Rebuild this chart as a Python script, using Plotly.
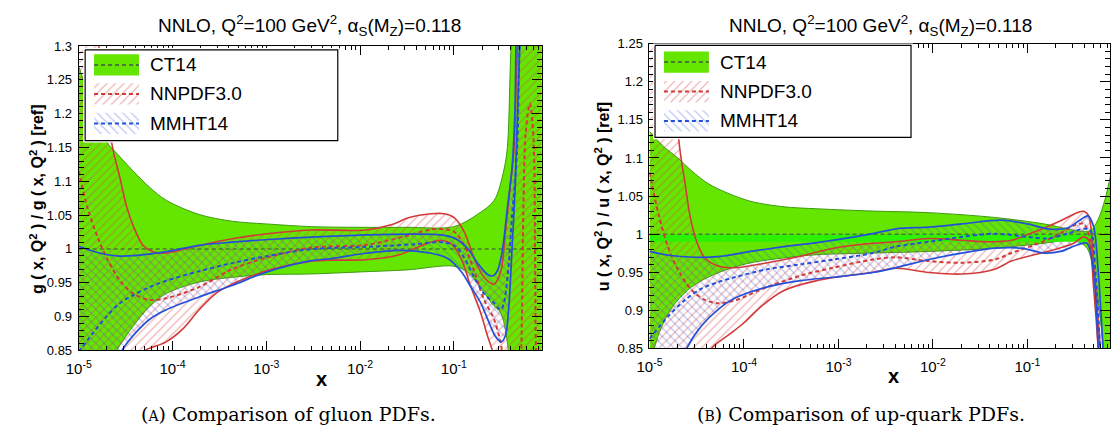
import plotly.graph_objects as go

W, H = 1115, 439

# ============================ DATA ============================
# x values are stored as log10(x); y values are PDF ratios to CT14.

# ---- Panel A: gluon ----
G_CT_UP_LX = [-5.0, -4.85, -4.7, -4.612, -4.418, -4.243, -4.067, -3.717, -3.365, -3.0, -2.52, -2.0, -1.5, -1.0, -0.75, -0.57, -0.47, -0.43, -0.39, -0.3, -0.06]
G_CT_UP = [1.27, 1.21, 1.158, 1.144, 1.115, 1.091, 1.072, 1.051, 1.041, 1.037, 1.033, 1.032, 1.032, 1.033, 1.051, 1.072, 1.115, 1.15, 1.30, 1.5, 1.6]
G_CT_LO_LX = [-5.0, -4.8, -4.594, -4.418, -4.243, -4.067, -3.717, -3.365, -3.0, -2.52, -2.0, -1.5, -1.0, -0.85, -0.7, -0.6, -0.5, -0.45, -0.42, -0.35, -0.06]
G_CT_LO = [0.72, 0.79, 0.85, 0.886, 0.915, 0.934, 0.951, 0.958, 0.962, 0.963, 0.966, 0.969, 0.9745, 0.965, 0.94, 0.92, 0.905, 0.88, 0.85, 0.75, 0.6]

G_NN_UP_LX = [-5.0, -4.8, -4.7, -4.63, -4.56, -4.49, -4.418, -4.313, -4.208, -4.067, -3.717, -3.365, -3.014, -2.52, -1.94, -1.66, -1.486, -1.24, -1.1, -0.994, -0.888, -0.783, -0.678, -0.572, -0.50, -0.45, -0.397, -0.361, -0.3, -0.06]
G_NN_UP = [1.6, 1.32, 1.2, 1.144, 1.105, 1.063, 1.034, 1.005, 0.996, 0.994, 1.005, 1.015, 1.022, 1.028, 1.028, 1.036, 1.046, 1.052, 1.052, 1.046, 1.025, 0.986, 0.958, 0.948, 0.967, 1.025, 1.096, 1.144, 1.35, 1.6]
G_NN_LO_LX = [-5.0, -4.6, -4.296, -4.067, -3.89, -3.717, -3.54, -3.365, -3.154, -2.943, -2.52, -2.294, -1.94, -1.59, -1.415, -1.24, -1.135, -1.03, -0.924, -0.819, -0.713, -0.643, -0.59, -0.5, -0.3, -0.06]
G_NN_LO = [0.70, 0.82, 0.85, 0.8626, 0.8817, 0.910, 0.934, 0.948, 0.960, 0.970, 0.9817, 0.9834, 0.984, 0.991, 1.0007, 1.0103, 1.0126, 1.008, 0.986, 0.944, 0.905, 0.872, 0.85, 0.80, 0.75, 0.70]
G_NN_C_LX = [-5.0, -4.91, -4.805, -4.70, -4.56, -4.418, -4.243, -4.067, -3.717, -3.365, -3.014, -2.52, -1.94, -1.486, -1.24, -1.1, -0.994, -0.888, -0.783, -0.678, -0.572, -0.50, -0.44, -0.36, -0.30, -0.28, -0.26, -0.235, -0.19, -0.15, -0.135, -0.125, -0.06]
G_NN_C = [1.115, 1.0626, 1.0197, 0.9864, 0.953, 0.934, 0.9246, 0.927, 0.9436, 0.970, 0.9864, 1.002, 1.006, 1.020, 1.029, 1.029, 1.025, 1.005, 0.967, 0.925, 0.896, 0.86, 0.80, 0.78, 0.80, 0.86, 1.05, 1.17, 1.215, 1.16, 1.0, 0.85, 0.5]

G_MM_UP_LX = [-5.0, -4.77, -4.594, -4.418, -4.067, -3.717, -3.365, -3.014, -2.52, -1.94, -1.415, -1.135, -0.994, -0.853, -0.748, -0.643, -0.59, -0.537, -0.485, -0.432, -0.38, -0.35, -0.33, -0.2, -0.06]
G_MM_UP = [1.004, 0.9936, 0.9897, 0.990, 0.996, 1.0054, 1.010, 1.0136, 1.0174, 1.0207, 1.022, 1.0207, 1.016, 1.0007, 0.979, 0.9626, 0.960, 0.9674, 0.996, 1.058, 1.12, 1.2, 1.35, 1.7, 1.8]
G_MM_LO_LX = [-5.0, -4.8, -4.54, -4.418, -4.243, -4.067, -3.717, -3.365, -3.014, -2.52, -2.294, -1.94, -1.59, -1.24, -1.065, -0.924, -0.819, -0.713, -0.625, -0.555, -0.495, -0.45, -0.414, -0.38, -0.345, -0.31, -0.2, -0.06]
G_MM_LO = [0.70, 0.78, 0.85, 0.8721, 0.896, 0.910, 0.929, 0.946, 0.965, 0.9826, 0.986, 0.9936, 0.998, 0.9936, 0.986, 0.967, 0.944, 0.920, 0.891, 0.870, 0.8626, 0.872, 0.915, 1.0007, 1.096, 1.25, 1.6, 1.7]
G_MM_C_LX = [-5.0, -4.84, -4.70, -4.56, -4.418, -4.243, -4.067, -3.717, -3.365, -3.014, -2.52, -1.94, -1.415, -1.135, -0.994, -0.888, -0.783, -0.678, -0.572, -0.50, -0.467, -0.425, -0.38, -0.327, -0.30, -0.2]
G_MM_C = [0.848, 0.877, 0.9007, 0.920, 0.9317, 0.9436, 0.953, 0.967, 0.979, 0.989, 0.9997, 1.003, 1.007, 1.010, 1.005, 0.9864, 0.958, 0.934, 0.920, 0.910, 0.920, 0.9626, 1.048, 1.1436, 1.30, 1.7]

# ---- Panel B: up quark ----
U_CT_UP_LX = [-5.0, -4.85, -4.7, -4.553, -4.38, -4.17, -3.926, -3.577, -3.229, -2.636, -2.043, -1.346, -0.823, -0.578, -0.45, -0.33, -0.25, -0.18, -0.1]
U_CT_UP = [1.135, 1.115, 1.1, 1.083, 1.0664, 1.0537, 1.043, 1.0359, 1.0333, 1.0303, 1.0282, 1.0219, 1.0134, 1.007, 1.004, 1.005, 1.02, 1.045, 1.09]
U_CT_LO_LX = [-5.0, -4.867, -4.728, -4.553, -4.38, -4.17, -3.926, -3.577, -3.229, -2.636, -2.043, -1.346, -0.823, -0.51, -0.37, -0.3, -0.22, -0.1]
U_CT_LO = [0.83, 0.8798, 0.9094, 0.9307, 0.9434, 0.954, 0.9625, 0.9688, 0.973, 0.9752, 0.9773, 0.9816, 0.988, 0.9921, 0.9816, 0.95, 0.88, 0.7]

U_NN_UP_LX = [-5.0, -4.85, -4.75, -4.676, -4.623, -4.571, -4.50, -4.414, -4.275, -4.10, -3.752, -3.403, -3.054, -2.636, -2.392, -2.043, -1.695, -1.415, -1.17, -0.928, -0.648, -0.474, -0.405, -0.352, -0.3, -0.2, -0.1]
U_NN_UP = [1.6, 1.35, 1.2, 1.109, 1.066, 1.024, 0.990, 0.9688, 0.9583, 0.956, 0.9625, 0.971, 0.9816, 0.988, 0.990, 0.9943, 0.992, 0.990, 0.992, 1.0028, 1.0176, 1.028, 1.030, 1.024, 0.96, 0.80, 0.6]
U_NN_LO_LX = [-5.0, -4.6, -4.344, -4.17, -3.996, -3.82, -3.577, -3.229, -2.636, -2.392, -2.043, -1.695, -1.346, -1.17, -0.928, -0.719, -0.51, -0.405, -0.352, -0.3, -0.25, -0.1]
U_NN_LO = [0.60, 0.78, 0.85, 0.867, 0.884, 0.905, 0.926, 0.939, 0.950, 0.9553, 0.9497, 0.9476, 0.954, 0.9646, 0.973, 0.9794, 0.988, 0.9964, 0.992, 0.93, 0.85, 0.6]
U_NN_C_LX = [-5.0, -4.90, -4.80, -4.693, -4.553, -4.414, -4.275, -4.10, -3.752, -3.403, -3.054, -2.636, -2.392, -2.043, -1.695, -1.346, -1.17, -0.928, -0.719, -0.51, -0.405, -0.33, -0.25, -0.2, -0.1]
U_NN_C = [1.081, 1.024, 0.9816, 0.952, 0.9265, 0.9137, 0.9094, 0.9128, 0.9307, 0.9455, 0.956, 0.9667, 0.9696, 0.9646, 0.9625, 0.9667, 0.9752, 0.9858, 0.9964, 1.0112, 1.0134, 0.99, 0.88, 0.75, 0.5]

U_MM_UP_LX = [-5.0, -4.80, -4.519, -4.275, -3.926, -3.577, -3.229, -2.636, -2.392, -2.043, -1.695, -1.276, -0.998, -0.788, -0.578, -0.45, -0.36, -0.3, -0.25, -0.2, -0.1]
U_MM_UP = [0.9773, 0.9723, 0.9697, 0.9705, 0.9773, 0.9837, 0.9888, 1.0006, 1.007, 1.0092, 1.0134, 1.0184, 1.0134, 1.007, 1.008, 1.018, 1.024, 1.01, 0.95, 0.85, 0.6]
U_MM_LO_LX = [-5.0, -4.8, -4.606, -4.449, -4.275, -4.10, -3.752, -3.403, -3.054, -2.636, -2.392, -2.043, -1.695, -1.346, -1.067, -0.823, -0.648, -0.474, -0.37, -0.3, -0.25, -0.2, -0.1]
U_MM_LO = [0.70, 0.78, 0.85, 0.8798, 0.901, 0.9158, 0.9307, 0.939, 0.9434, 0.9497, 0.956, 0.9667, 0.9752, 0.9816, 0.9816, 0.9752, 0.9773, 0.9858, 0.988, 0.95, 0.85, 0.75, 0.6]
U_MM_C_LX = [-5.0, -4.80, -4.623, -4.449, -4.275, -4.10, -3.752, -3.403, -3.054, -2.636, -2.392, -2.043, -1.695, -1.346, -0.998, -0.788, -0.578, -0.405, -0.335, -0.28, -0.23, -0.1]
U_MM_C = [0.8628, 0.8925, 0.9137, 0.9285, 0.937, 0.9434, 0.954, 0.9603, 0.9667, 0.9752, 0.9837, 0.990, 0.9964, 1.0006, 0.9964, 0.9943, 1.0006, 1.007, 1.005, 0.95, 0.85, 0.6]

# CT14 reference (ratio = 1) and the bright strip seen in panel B
REF_LX = [-5.0, 0.0]
REF = [1.0, 1.0]
STRIP_LX = [-5.0, -0.3]
STRIP_LO = [0.99, 0.99]
STRIP_HI = [1.0, 1.0]

# ticks / labels
X_TICKS = [1e-5, 1e-4, 1e-3, 1e-2, 1e-1]
X_TICKTEXT = ["10<sup>-5</sup>", "10<sup>-4</sup>", "10<sup>-3</sup>", "10<sup>-2</sup>", "10<sup>-1</sup>"]
G_YTICKS = [0.85, 0.9, 0.95, 1.0, 1.05, 1.1, 1.15, 1.2, 1.25, 1.3]
G_YTEXT = ["0.85", "0.9", "0.95", "1", "1.05", "1.1", "1.15", "1.2", "1.25", "1.3"]
U_YTICKS = [0.85, 0.9, 0.95, 1.0, 1.05, 1.1, 1.15, 1.2, 1.25]
U_YTEXT = ["0.85", "0.9", "0.95", "1", "1.05", "1.1", "1.15", "1.2", "1.25"]
LEGEND_NAMES = ["CT14", "NNPDF3.0", "MMHT14"]
TITLE = "NNLO, Q<sup>2</sup>=100 GeV<sup>2</sup>, α<sub>S</sub>(M<sub>Z</sub>)=0.118"
G_YTITLE = "g ( x, Q<sup>2</sup> ) / g ( x, Q<sup>2</sup> ) [ref]"
U_YTITLE = "u ( x, Q<sup>2</sup> ) / u ( x, Q<sup>2</sup> ) [ref]"
CAPTIONS = ["(<span style='font-size:14px'>A</span>) Comparison of gluon PDFs.",
            "(<span style='font-size:14px'>B</span>) Comparison of up-quark PDFs."]

# ============================ STYLE / LAYOUT ============================
FONT = "Liberation Sans"
SERIF = "DejaVu Serif"
GREEN = "#64e600"
GREEN_EDGE = "#3f9a10"
GREEN_DASH = "#4a7a35"
STRIP_GREEN = "#2cf200"
RED = "#d23a3a"
BLUE = "#2450d8"
NONE = "rgba(0,0,0,0)"
DASH = "4px,3px"
NN_PATTERN = dict(shape="/", fgcolor="#d84848", fgopacity=0.42, bgcolor=NONE, size=6, solidity=0.2)
MM_PATTERN = dict(shape="\\", fgcolor="#3c5ce0", fgopacity=0.35, bgcolor=NONE, size=6, solidity=0.2)

# plot-area boxes in pixels: left, right, top, bottom
BOX_A = (66.5, 535.0, 40.5, 355.5)
BOX_B = (644.0, 1110.0, 38.0, 353.5)
XMAX_A, XMAX_B = -0.063, -0.1255
# legend boxes in pixels, and row centres relative to box top
LEG_A = (73.0, 328.6, 44.3, 138.3)
LEG_B = (649.6, 908.6, 39.8, 135.0)
ROWS_A = [15.7, 45.7, 76.2]
ROWS_B = [17.2, 47.7, 78.2]
SW_X0, SW_X1, SW_HALF, TXT_X = 9.0, 54.5, 11.0, 64.0


def xdom(l, r):
    return [l / W, r / W]


def ydom(t, b):
    return [(H - b) / H, (H - t) / H]


def lx(v):
    return [10 ** a for a in v]


fig = go.Figure()


def add(xa, ya, L, v, color=NONE, width=0, dash=None, fill=None, fillcolor=None, fillpattern=None, shape="spline"):
    kw = dict(x=lx(L), y=v, mode="lines", xaxis=xa, yaxis=ya, hoverinfo="skip", showlegend=False,
              line=dict(color=color, width=width, dash=dash, shape=shape, smoothing=0.9))
    if fill:
        kw.update(fill=fill, fillcolor=fillcolor if fillcolor else NONE)
    if fillpattern:
        kw.update(fillpattern=fillpattern)
    fig.add_trace(go.Scatter(**kw))


PANELS = [
    dict(xa="x", ya="y", ct=(G_CT_LO_LX, G_CT_LO, G_CT_UP_LX, G_CT_UP),
         nn=(G_NN_LO_LX, G_NN_LO, G_NN_UP_LX, G_NN_UP), nnc=(G_NN_C_LX, G_NN_C),
         mm=(G_MM_LO_LX, G_MM_LO, G_MM_UP_LX, G_MM_UP), mmc=(G_MM_C_LX, G_MM_C), strip=False),
    dict(xa="x2", ya="y2", ct=(U_CT_LO_LX, U_CT_LO, U_CT_UP_LX, U_CT_UP),
         nn=(U_NN_LO_LX, U_NN_LO, U_NN_UP_LX, U_NN_UP), nnc=(U_NN_C_LX, U_NN_C),
         mm=(U_MM_LO_LX, U_MM_LO, U_MM_UP_LX, U_MM_UP), mmc=(U_MM_C_LX, U_MM_C), strip=True),
]

for p in PANELS:
    xa, ya = p["xa"], p["ya"]
    add(xa, ya, p["ct"][0], p["ct"][1], GREEN_EDGE, 1)
    add(xa, ya, p["ct"][2], p["ct"][3], GREEN_EDGE, 1, fill="tonexty", fillcolor=GREEN)
    add(xa, ya, p["nn"][0], p["nn"][1])
    add(xa, ya, p["nn"][2], p["nn"][3], fill="tonexty", fillpattern=NN_PATTERN)
    add(xa, ya, p["mm"][0], p["mm"][1])
    add(xa, ya, p["mm"][2], p["mm"][3], fill="tonexty", fillpattern=MM_PATTERN)
    if p["strip"]:
        add(xa, ya, STRIP_LX, STRIP_LO, shape="linear")
        add(xa, ya, STRIP_LX, STRIP_HI, fill="tonexty", fillcolor=STRIP_GREEN, shape="linear")
    add(xa, ya, REF_LX, REF, GREEN_DASH, 1.5, dash=DASH, shape="linear")
    add(xa, ya, p["nn"][0], p["nn"][1], RED, 1.6)
    add(xa, ya, p["nn"][2], p["nn"][3], RED, 1.6)
    add(xa, ya, p["nnc"][0], p["nnc"][1], RED, 2, dash=DASH)
    add(xa, ya, p["mm"][0], p["mm"][1], BLUE, 1.7)
    add(xa, ya, p["mm"][2], p["mm"][3], BLUE, 1.7)
    add(xa, ya, p["mmc"][0], p["mmc"][1], BLUE, 2, dash=DASH)


# ---------- hand-drawn legends on invisible overlay axes ----------
LEG_STYLES = [
    dict(fillcolor=GREEN, pattern=None, dash_color=GREEN_DASH),
    dict(fillcolor=NONE, pattern=NN_PATTERN, dash_color=RED),
    dict(fillcolor=NONE, pattern=MM_PATTERN, dash_color=BLUE),
]
annotations = []
layout_axes = {}
for n, (box, rows) in zip((3, 4), ((LEG_A, ROWS_A), (LEG_B, ROWS_B))):
    l, r, t, b = box
    w, h = r - l, b - t
    pad = 2
    xa, ya = f"x{n}", f"y{n}"
    layout_axes[f"xaxis{n}"] = dict(domain=xdom(l - pad, r + pad), range=[-pad, w + pad], visible=False,
                                    anchor=ya, fixedrange=True)
    layout_axes[f"yaxis{n}"] = dict(domain=ydom(t - pad, b + pad), range=[h + pad, -pad], visible=False,
                                    anchor=xa, fixedrange=True)
    fig.add_trace(go.Scatter(x=[0, w, w, 0, 0], y=[0, 0, h, h, 0], mode="lines", fill="toself",
                             fillcolor="white", line=dict(color="black", width=1.2),
                             xaxis=xa, yaxis=ya, hoverinfo="skip", showlegend=False))
    for name, rc, st in zip(LEGEND_NAMES, rows, LEG_STYLES):
        kw = dict(x=[SW_X0, SW_X1, SW_X1, SW_X0, SW_X0],
                  y=[rc - SW_HALF, rc - SW_HALF, rc + SW_HALF, rc + SW_HALF, rc - SW_HALF],
                  mode="lines", fill="toself", fillcolor=st["fillcolor"], line=dict(width=0, color=NONE),
                  xaxis=xa, yaxis=ya, hoverinfo="skip", showlegend=False)
        if st["pattern"]:
            kw["fillpattern"] = st["pattern"]
        fig.add_trace(go.Scatter(**kw))
        fig.add_trace(go.Scatter(x=[SW_X0, SW_X1], y=[rc, rc], mode="lines",
                                 line=dict(color=st["dash_color"], width=2, dash=DASH),
                                 xaxis=xa, yaxis=ya, hoverinfo="skip", showlegend=False))
        annotations.append(dict(text=name, x=TXT_X, y=rc, xref=xa, yref=ya, xanchor="left", yanchor="middle",
                                showarrow=False, font=dict(family=FONT, size=19, color="black")))


def x_axis(box, xmax, anchor):
    return dict(type="log", range=[-5, xmax], domain=xdom(box[0], box[1]), anchor=anchor,
                showline=True, linecolor="black", linewidth=1, mirror="ticks",
                ticks="inside", ticklen=9, tickwidth=1, tickcolor="black",
                tickmode="array", tickvals=X_TICKS, ticktext=X_TICKTEXT,
                tickfont=dict(family=FONT, size=15, color="black"), ticklabelstandoff=5,
                showgrid=False, zeroline=False,
                minor=dict(tickvals=[m * t for t in X_TICKS for m in range(2, 10)], ticks="inside",
                           ticklen=4, tickcolor="black", showgrid=False))


def y_axis(box, rng, vals, text, anchor):
    return dict(range=rng, domain=ydom(box[2], box[3]), anchor=anchor,
                showline=True, linecolor="black", linewidth=1, mirror="ticks",
                ticks="inside", ticklen=10, tickwidth=1, tickcolor="black",
                tickmode="array", tickvals=vals, ticktext=text,
                tickfont=dict(family=FONT, size=13, color="black"), ticklabelstandoff=3,
                showgrid=False, zeroline=False,
                minor=dict(dtick=0.01, tick0=0.85, ticks="inside", ticklen=5, tickcolor="black", showgrid=False))


for cx, cy_t, ytitle, ycx, ycy, xlx, xly, cap, capx in (
        (300, 19, G_YTITLE, 24, 199, 312.5, 385, CAPTIONS[0], 278.5),
        (878, 19, U_YTITLE, 596, 197, 890.7, 382, CAPTIONS[1], 857.5)):
    annotations.append(dict(text=TITLE, x=cx / W, y=1 - cy_t / H, xref="paper", yref="paper",
                            xanchor="center", yanchor="middle", showarrow=False,
                            font=dict(family=FONT, size=19, color="black")))
    annotations.append(dict(text=ytitle, x=ycx / W, y=1 - ycy / H, xref="paper", yref="paper",
                            xanchor="center", yanchor="middle", textangle=-90, showarrow=False,
                            font=dict(family=FONT, size=16, color="black", weight="bold")))
    annotations.append(dict(text="x", x=xlx / W, y=1 - xly / H, xref="paper", yref="paper",
                            xanchor="center", yanchor="middle", showarrow=False,
                            font=dict(family=FONT, size=20, color="black", weight="bold")))
    annotations.append(dict(text=cap, x=capx / W, y=1 - 421 / H, xref="paper", yref="paper",
                            xanchor="center", yanchor="middle", showarrow=False,
                            font=dict(family=SERIF, size=19, color="black")))

fig.update_layout(
    width=W, height=H, margin=dict(l=0, r=0, t=0, b=0),
    paper_bgcolor="white", plot_bgcolor="white", showlegend=False,
    xaxis=x_axis(BOX_A, XMAX_A, "y"),
    yaxis=y_axis(BOX_A, [0.85, 1.3], G_YTICKS, G_YTEXT, "x"),
    xaxis2=x_axis(BOX_B, XMAX_B, "y2"),
    yaxis2=y_axis(BOX_B, [0.85, 1.25], U_YTICKS, U_YTEXT, "x2"),
    annotations=annotations,
    **layout_axes,
)

fig.write_html("out.html", config={"displayModeBar": False},
               post_script="document.body.style.margin='0';document.body.style.overflow='hidden';")
